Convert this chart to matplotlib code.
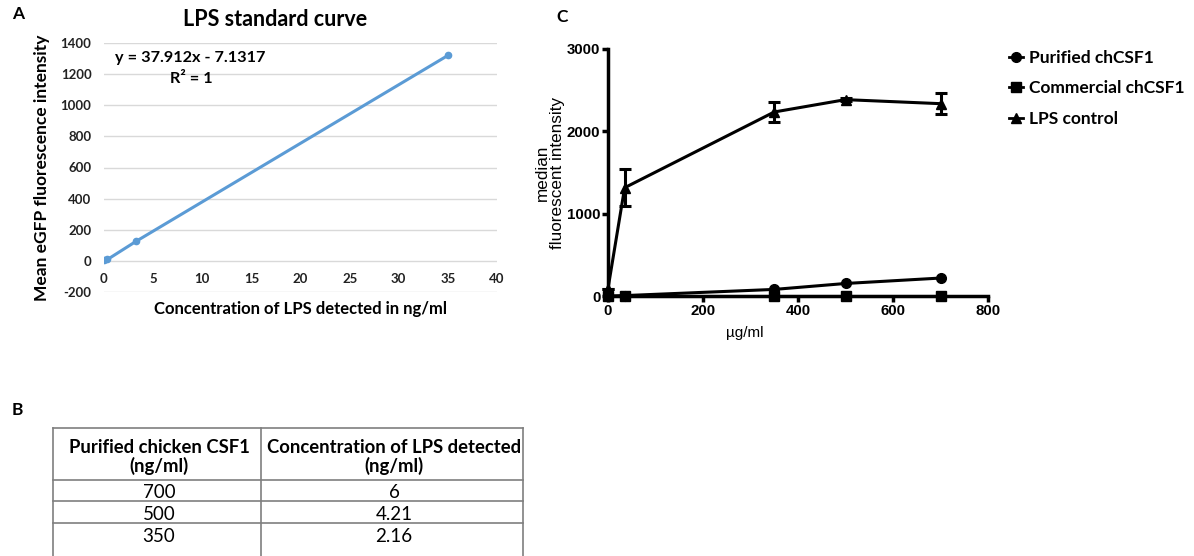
import matplotlib
matplotlib.use("Agg")
import matplotlib.pyplot as plt
from matplotlib.lines import Line2D

plt.rcParams["axes.unicode_minus"] = False

# ---- Panel A: LPS standard curve ----
std_conc = [0.0, 0.35, 3.3, 35.0]          # ng/ml LPS
std_mfi = [4, 9, 127, 1320]                # mean eGFP intensity
a_xticks = [0, 5, 10, 15, 20, 25, 30, 35, 40]
a_yticks = [-200, 0, 200, 400, 600, 800, 1000, 1200, 1400]
fit_label = "y = 37.912x - 7.1317"
r2_label = "R² = 1"

# ---- Panel B: table ----
table_header = ["Purified chicken CSF1\n(ng/ml)", "Concentration of LPS detected\n(ng/ml)"]
csf1_conc = ["700", "500", "350"]
lps_detected = ["6", "4.21", "2.16"]

# ---- Panel C: macrophage response ----
dose = [0, 35, 350, 500, 700]              # µg/ml
purified = [0, 5, 80, 152, 218]
commercial = [0, 0, 0, 0, 0]
lps_ctrl = [90, 1315, 2235, 2385, 2336]
lps_err = [0, 225, 125, 15, 130]
c_xticks = [0, 200, 400, 600, 800]
c_yticks = [0, 1000, 2000, 3000]
series_names = ["Purified chCSF1", "Commercial chCSF1", "LPS control"]

W, H = 1194, 556
fig = plt.figure(figsize=(W / 100, H / 100), dpi=100)

def px_axes(x0, y0, x1, y1):
    return fig.add_axes([x0 / W, 1 - y1 / H, (x1 - x0) / W, (y1 - y0) / H])

CAL = ["Lato", "DejaVu Sans"]
ARI = ["Liberation Sans", "DejaVu Sans"]
BLUE = "#5B9BD5"

# Panel A
axA = px_axes(104, 43, 497, 292)
axA.plot(std_conc, std_mfi, color=BLUE, lw=2.2, marker="o", ms=4.5, zorder=3)
axA.set_xlim(0, 40)
axA.set_ylim(-200, 1400)
axA.set_xticks(a_xticks)
axA.set_yticks(a_yticks)
axA.grid(axis="y", color="#D9D9D9", lw=1)
axA.set_axisbelow(True)
for s in axA.spines.values():
    s.set_visible(False)
axA.tick_params(length=0, labelsize=9.5)
axA.tick_params(axis="y", pad=9)
# x labels sit just under the zero line (axis crosses at 0)
axA.tick_params(axis="x", pad=-14)
for lab in axA.get_xticklabels() + axA.get_yticklabels():
    lab.set_family(CAL)
    lab.set_fontweight("bold")
    lab.set_color("#222222")
axA.set_title("LPS standard curve", family=CAL, fontweight="bold", fontsize=15.5,
              x=0.435, pad=12)
axA.set_ylabel("Mean eGFP fluorescence intensity", family=CAL, fontweight="bold",
               fontsize=12.5)
axA.yaxis.set_label_coords(-0.137, 0.5)
axA.set_xlabel("Concentration of LPS detected in ng/ml", family=CAL, fontweight="bold",
               fontsize=12)
axA.xaxis.set_label_coords(0.5, -0.035)
axA.text(0.028, 0.94, fit_label, transform=axA.transAxes, family=CAL,
         fontweight="bold", fontsize=11.7, va="center")
axA.text(0.168, 0.855, r2_label, transform=axA.transAxes, family=CAL,
         fontweight="bold", fontsize=11.7, va="center")

# Panel C
axC = px_axes(608, 49, 988, 296)
lw = 2.2
axC.plot(dose, purified, color="black", lw=lw, marker="o", ms=7, clip_on=False, zorder=4)
axC.plot(dose, commercial, color="black", lw=lw, marker="s", ms=7, clip_on=False, zorder=4)
axC.errorbar(dose, lps_ctrl, yerr=lps_err, color="black", lw=lw, marker="^", ms=7,
             capsize=4, capthick=2.2, elinewidth=2.2, clip_on=False, zorder=4)
axC.set_xlim(0, 800)
axC.set_ylim(0, 3000)
axC.set_xticks(c_xticks)
axC.set_yticks(c_yticks)
for side in ("top", "right"):
    axC.spines[side].set_visible(False)
for side in ("left", "bottom"):
    axC.spines[side].set_linewidth(2.5)
axC.tick_params(width=2.5, length=4, labelsize=10.8, pad=1.5)
for lab in axC.get_xticklabels() + axC.get_yticklabels():
    lab.set_family(ARI)
    lab.set_fontweight("bold")
axC.set_xlabel("µg/ml", family=ARI, fontsize=11)
axC.xaxis.set_label_coords(0.36, -0.12)
axC.set_ylabel("median\nfluorescent intensity", family=ARI, fontsize=12.3,
               linespacing=0.95)
# right edge of the label block sits just left of the tick labels
axC.yaxis.set_label_coords(-0.114, 0.5)

handles = [
    Line2D([], [], color="black", lw=2, marker="o", ms=7),
    Line2D([], [], color="black", lw=2, marker="s", ms=7),
    Line2D([], [], color="black", lw=2, marker="^", ms=7),
]
fig.legend(handles, series_names, loc="upper left", bbox_to_anchor=(993 / W, 1 - 34 / H),
           frameon=False, prop={"family": CAL, "weight": "bold", "size": 12.5},
           handlelength=0.8, handletextpad=0.4, labelspacing=0.85)

# Panel letters
fig.text(12 / W, 1 - 14 / H, "A", family=CAL, fontweight="bold", fontsize=12.5, va="center")
fig.text(12 / W, 1 - 410 / H, "B", family=CAL, fontweight="bold", fontsize=12.5, va="center")
fig.text(556 / W, 1 - 17 / H, "C", family=CAL, fontweight="bold", fontsize=12.5, va="center")

# Panel B table
axB = fig.add_axes([0, 0, 1, 1], facecolor="none")
axB.set_xlim(0, W)
axB.set_ylim(H, 0)
axB.axis("off")
col_x = [53, 261, 523]
row_y = [428, 480, 501, 523, H]
gray = "#7F7F7F"
for x in col_x:
    axB.plot([x, x], [row_y[0], H], color=gray, lw=1.2)
for y in row_y[:-1]:
    axB.plot([col_x[0], col_x[-1]], [y, y], color=gray, lw=1.2)
for j, txt in enumerate(table_header):
    axB.text((col_x[j] + col_x[j + 1]) / 2 + 2, 457, txt, ha="center",
             va="center", family=CAL, fontweight="bold", fontsize=13.3, linespacing=1.1)
value_y = [492, 514, 536]
for yc, a, b in zip(value_y, csf1_conc, lps_detected):
    axB.text((col_x[0] + col_x[1]) / 2 + 2, yc, a, ha="center", va="center", family=CAL,
             fontsize=13.5)
    axB.text((col_x[1] + col_x[2]) / 2 + 2, yc, b, ha="center", va="center", family=CAL,
             fontsize=13.5)

fig.savefig("out.png", dpi=100)
